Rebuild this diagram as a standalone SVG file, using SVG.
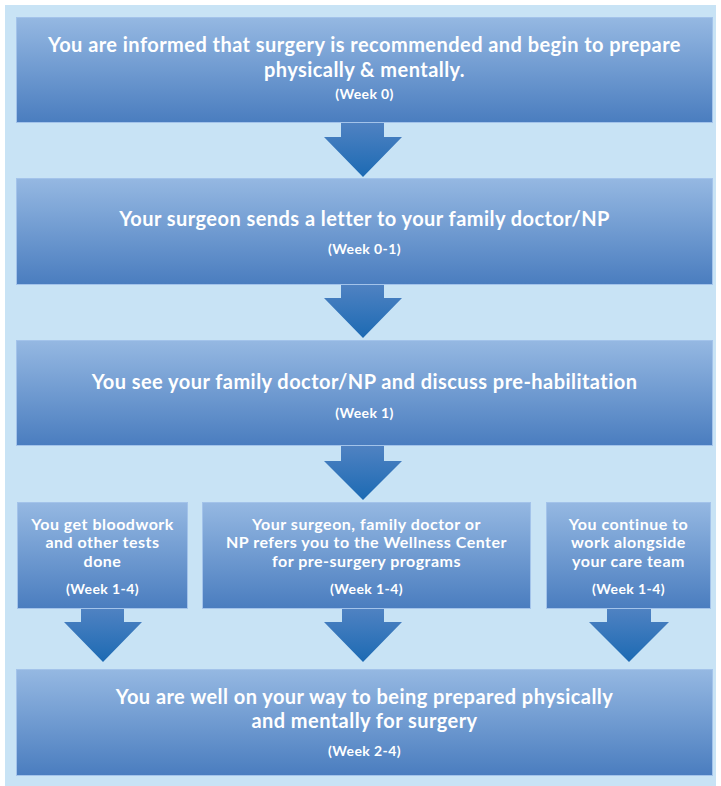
<svg xmlns="http://www.w3.org/2000/svg" width="721" height="786" viewBox="0 0 721 786">
  <defs>
    <linearGradient id="boxg" x1="0" y1="0" x2="0" y2="1">
      <stop offset="0" stop-color="#95B8E2"/>
      <stop offset="1" stop-color="#4A7DBF"/>
    </linearGradient>
    <linearGradient id="arrg" x1="0" y1="0" x2="0" y2="1">
      <stop offset="0" stop-color="#4F82C2"/>
      <stop offset="1" stop-color="#1C6AB3"/>
    </linearGradient>
    <style>
      .box { fill: url(#boxg); stroke: #A3C3EA; stroke-width: 1; }
      .arr { fill: url(#arrg); }
      text { font-family: Lato, "Liberation Sans", sans-serif; font-weight: bold; fill: #FFFFFF; text-anchor: middle; }
      .big { font-size: 20px; letter-spacing: 0.45px; }
      .mid { font-size: 16px; letter-spacing: 0.5px; }
      .wk { font-size: 14px; letter-spacing: 0.4px; }
    </style>
  </defs>
  <rect x="0" y="0" width="721" height="786" fill="#FFFFFF"/>
  <rect x="5" y="5" width="711" height="781" fill="#C8E3F5"/>

  <g id="connectors">
    <path class="arr" d="M341,123 H384 V137 H402 L363,177 L324,137 H341 Z"/>
    <path class="arr" d="M341,285 H384 V298 H402 L363,338 L324,298 H341 Z"/>
    <path class="arr" d="M341,446 H384 V461 H402 L363,500 L324,461 H341 Z"/>
    <path class="arr" d="M81,609 H124 V622 H142 L103,662 L64,622 H81 Z"/>
    <path class="arr" d="M342,609 H384 V622 H402 L363,662 L324,622 H342 Z"/>
    <path class="arr" d="M607,609 H651 V622 H669 L629,662 L589,622 H607 Z"/>
  </g>

  <g id="node1">
    <rect class="box" x="16.5" y="17.5" width="696" height="105"/>
    <text class="big" x="364.5" y="52">You are informed that surgery is recommended and begin to prepare</text>
    <text class="big" x="364.5" y="77">physically &amp; mentally.</text>
    <text class="wk" x="364.5" y="99">(Week 0)</text>
  </g>

  <g id="node2">
    <rect class="box" x="16.5" y="178.5" width="696" height="106"/>
    <text class="big" x="364.5" y="226">Your surgeon sends a letter to your family doctor/NP</text>
    <text class="wk" x="364.5" y="254">(Week 0-1)</text>
  </g>

  <g id="node3">
    <rect class="box" x="16.5" y="340.5" width="696" height="105"/>
    <text class="big" x="364.5" y="389">You see your family doctor/NP and discuss pre-habilitation</text>
    <text class="wk" x="364.5" y="418">(Week 1)</text>
  </g>

  <g id="node4">
    <rect class="box" x="17.5" y="502.5" width="170" height="106"/>
    <text class="mid" x="102.5" y="530">You get bloodwork</text>
    <text class="mid" x="102.5" y="548">and other tests</text>
    <text class="mid" x="102.5" y="567">done</text>
    <text class="wk" x="102.5" y="594">(Week 1-4)</text>
  </g>

  <g id="node5">
    <rect class="box" x="202.5" y="502.5" width="328" height="106"/>
    <text class="mid" x="366.5" y="530">Your surgeon, family doctor or</text>
    <text class="mid" x="366.5" y="548">NP refers you to the Wellness Center</text>
    <text class="mid" x="366.5" y="567">for pre-surgery programs</text>
    <text class="wk" x="366.5" y="594">(Week 1-4)</text>
  </g>

  <g id="node6">
    <rect class="box" x="546.5" y="502.5" width="164" height="106"/>
    <text class="mid" x="628.5" y="530">You continue to</text>
    <text class="mid" x="628.5" y="548">work alongside</text>
    <text class="mid" x="628.5" y="567">your care team</text>
    <text class="wk" x="628.5" y="594">(Week 1-4)</text>
  </g>

  <g id="node7">
    <rect class="box" x="16.5" y="669.5" width="696" height="106"/>
    <text class="big" x="364.5" y="704">You are well on your way to being prepared physically</text>
    <text class="big" x="364.5" y="728">and mentally for surgery</text>
    <text class="wk" x="364.5" y="756">(Week 2-4)</text>
  </g>
</svg>
